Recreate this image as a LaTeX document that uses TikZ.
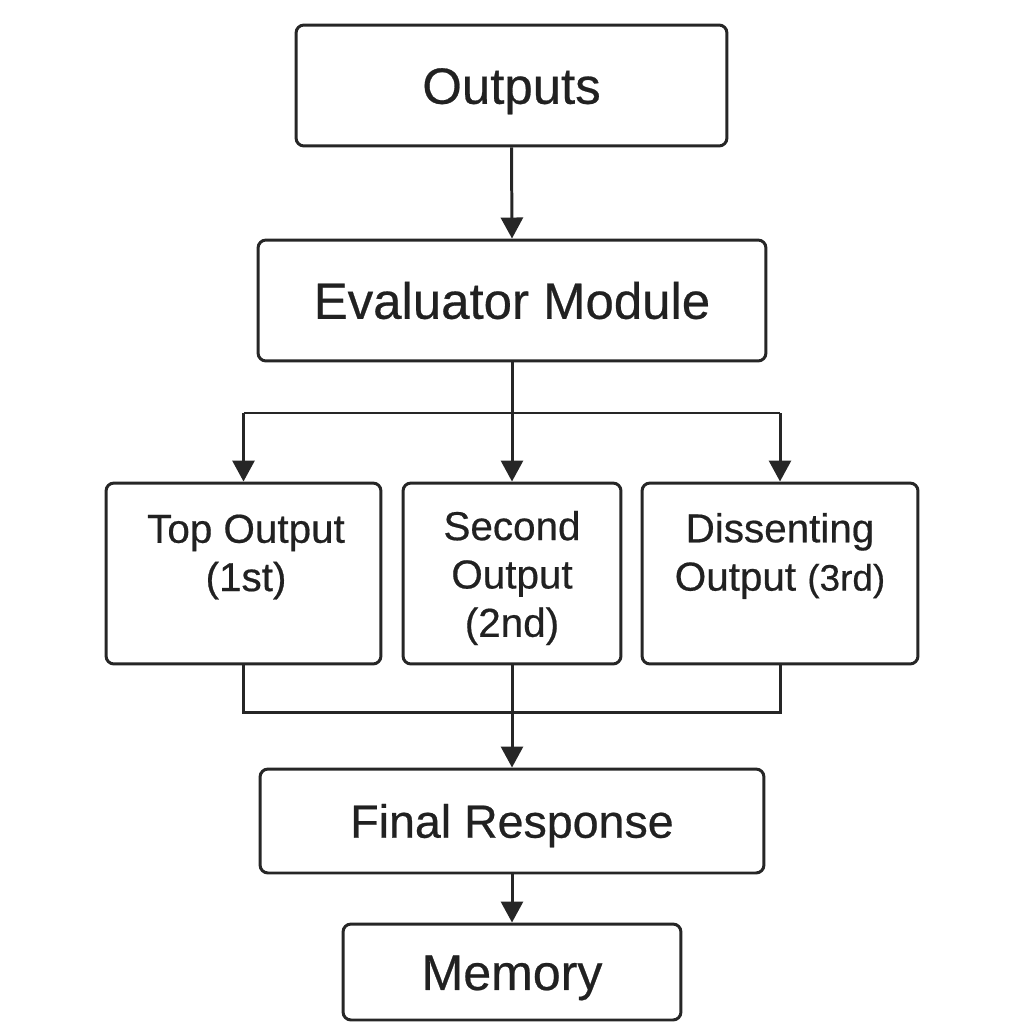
\documentclass[tikz,border=0pt]{standalone}
\usepackage{fontspec}
\setmainfont{Liberation Sans}[FakeBold=0.5]
\usetikzlibrary{arrows.meta}

\begin{document}
\begin{tikzpicture}[x=0.02cm, y=-0.02cm,
		box/.style={draw=black!85, line width=1.7pt, rounded corners=0.16cm, inner sep=0pt},
		arr/.style={draw=black!85, line width=1.7pt, -{Triangle[length=0.42cm, width=0.44cm]}},
		link/.style={draw=black!85, line width=1.7pt},
		big/.style={font=\fontsize{29}{34}\selectfont, text=black!87, text height=20.8pt, text depth=0pt},
		small/.style={font=\fontsize{23}{27.5}\selectfont, text=black!87, align=center}]
		\useasboundingbox (0,0) rectangle (1024,1024);
		% top row
		\node[box, big, minimum width=8.62cm, minimum height=2.42cm](outputs) at (511.5,85.5) {Outputs};
		\node[box, big, minimum width=10.16cm, minimum height=2.42cm](evaluator) at (512,300.5) {Evaluator Module};
		% three ranked outputs
		\node[box, minimum width=5.5cm, minimum height=3.62cm](top) at (243.5,573.5) {};
		\node[box, minimum width=4.36cm, minimum height=3.62cm](second) at (512,573.5) {};
		\node[box, minimum width=5.52cm, minimum height=3.62cm](dissent) at (780,573.5) {};
		\node[small](toptext) at (246,557) {Top Output\\(1st)};
		\node[small](secondtext) at (512,578) {Second\\Output\\(2nd)};
		\node[small](dissenttext) at (780,556) {Dissenting\\Output {\fontsize{21}{27.5}\selectfont(3rd)}};
		% bottom
		\node[box, big, font=\fontsize{26.5}{32}\selectfont, text height=19pt, minimum width=10.08cm, minimum height=2.08cm](final) at (512,821) {Final Response};
		\node[box, big, font=\fontsize{28.5}{34}\selectfont, text height=20.4pt, minimum width=6.76cm, minimum height=1.92cm](memory) at (512,972) {Memory};
		\coordinate (split) at (512,413);
		\coordinate (join) at (512,712);
		% connectors
		\draw[arr] (outputs.south) -- (evaluator.north);
		\draw[arr] (evaluator.south) -- (second.north);
		\draw[link] (top.north |- split) -- (dissent.north |- split);
		\draw[arr] (top.north |- split) -- (top.north);
		\draw[arr] (dissent.north |- split) -- (dissent.north);
		\draw[link] (top.south) -- (top.south |- join) -- (dissent.south |- join) -- (dissent.south);
		\draw[arr] (second.south) -- (final.north);
		\draw[arr] (final.south) -- (memory.north);
\end{tikzpicture}
\end{document}
